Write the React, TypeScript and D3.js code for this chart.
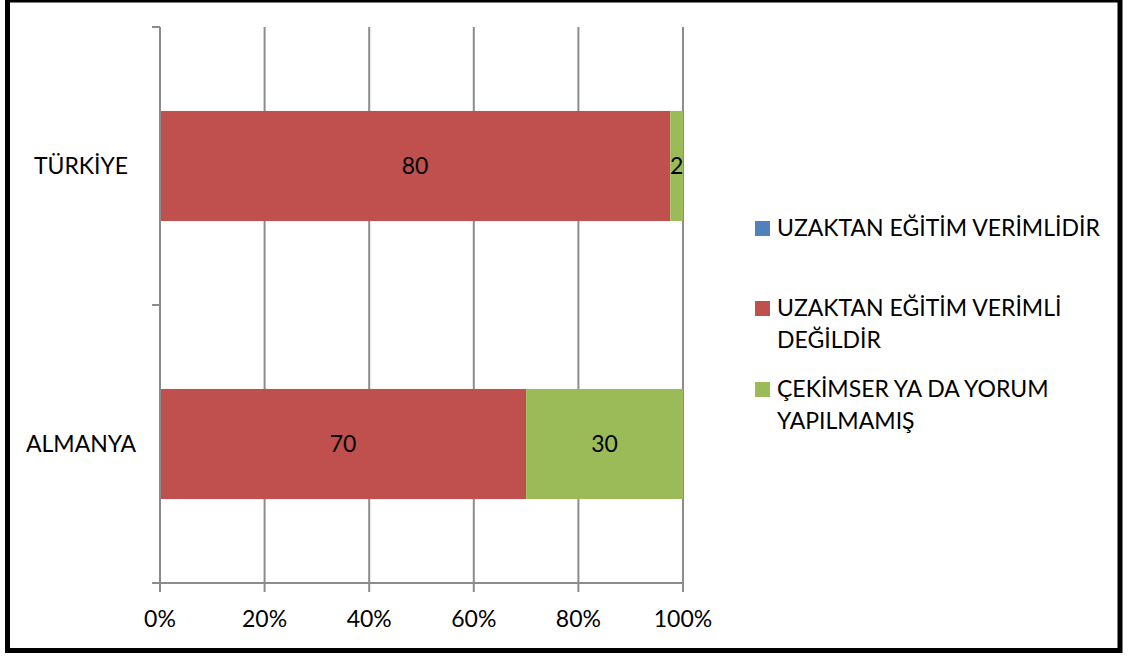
import React from "react";
import * as d3 from "d3";

const categories = ["TÜRKİYE", "ALMANYA"];
const seriesNames = ["UZAKTAN EĞİTİM VERİMLİDİR", "UZAKTAN EĞİTİM VERİMLİ DEĞİLDİR", "ÇEKİMSER YA DA YORUM YAPILMAMIŞ"];
const legendLines = [["UZAKTAN EĞİTİM VERİMLİDİR"], ["UZAKTAN EĞİTİM VERİMLİ", "DEĞİLDİR"], ["ÇEKİMSER YA DA YORUM", "YAPILMAMIŞ"]];
const verimli = [0, 0];
const verimliDegil = [80, 70];
const cekimser = [2, 30];
const tickValues = [0, 0.2, 0.4, 0.6, 0.8, 1];
const colors = ["#4F81BD", "#C0504D", "#9BBB59"];

const W = 1129, H = 657;
const FONT = "Lato, 'Liberation Sans', sans-serif";
const FS = 23;

export default function App() {
  const x = d3.scaleLinear().domain([0, 1]).range([160, 683]);
  const y = d3.scaleBand<string>().domain(categories).range([27, 583]).paddingInner(0.604).paddingOuter(0.302);
  const rows = categories.map((c, i) => ({ cat: c, v: [verimli[i], verimliDegil[i], cekimser[i]] }));
  const stack = d3.stack<any>().keys(["0", "1", "2"]).value((d, k) => d.v[+k]).offset(d3.stackOffsetExpand);
  const layers = stack(rows as any);
  const rawLayers = d3.stack<any>().keys(["0", "1", "2"]).value((d, k) => d.v[+k])(rows as any);
  const grid = "#8C8C8C";
  const step = y.step();
  const yTicks = [27, 27 + step, 583];
  return (
    <svg width={W} height={H} style={{ position: "absolute", left: 0, top: 0, background: "#fff" }} fontFamily={FONT}>
      <rect x={0} y={0} width={W} height={H} fill="#fff" />
      <rect x={7.5} y={0} width={1112.5} height={650.5} fill="none" stroke="#000" strokeWidth={5} />
      {tickValues.slice(1).map((t) => (
        <line key={t} x1={x(t)} x2={x(t)} y1={27} y2={592} stroke={grid} strokeWidth={2} />
      ))}
      {layers.map((layer, li) =>
        layer.map((d, i) => {
          const w = x(d[1]) - x(d[0]);
          if (w <= 0) return null;
          return (
            <rect key={li + "-" + i} x={x(d[0])} y={y(rows[i].cat)} width={w} height={y.bandwidth()} fill={colors[li]} />
          );
        })
      )}
      {layers.map((layer, li) =>
        layer.map((d, i) => {
          const val = rows[i].v[li];
          if (!val) return null;
          return (
            <text key={"l" + li + "-" + i} x={(x(d[0]) + x(d[1])) / 2} y={(y(rows[i].cat) as number) + y.bandwidth() / 2} dy="0.35em" textAnchor="middle" fontSize={FS} fill="#000">
              {val}
            </text>
          );
        })
      )}
      <line x1={160} x2={160} y1={27} y2={583} stroke={grid} strokeWidth={2} />
      <line x1={152} x2={683} y1={583} y2={583} stroke={grid} strokeWidth={2} />
      {yTicks.map((t) => (
        <line key={t} x1={152} x2={160} y1={t} y2={t} stroke={grid} strokeWidth={2} />
      ))}
      <line x1={160} x2={160} y1={583} y2={592} stroke={grid} strokeWidth={2} />
      {tickValues.map((t) => (
        <text key={"t" + t} x={x(t)} y={619} dy="0.35em" textAnchor="middle" fontSize={FS} fill="#000">
          {d3.format(".0%")(t)}
        </text>
      ))}
      {categories.map((c) => (
        <text key={c} x={81} y={(y(c) as number) + y.bandwidth() / 2} dy="0.35em" textAnchor="middle" fontSize={FS} fill="#000">
          {c}
        </text>
      ))}
      {seriesNames.map((s, i) => {
        const tops = [228, 308, 389];
        return (
          <g key={s}>
            <rect x={755} y={tops[i] - 7} width={15} height={15} fill={colors[i]} />
            {legendLines[i].map((ln, j) => (
              <text key={j} x={777} y={tops[i] + j * 32} dy="0.35em" fontSize={FS} fill="#000">
                {ln}
              </text>
            ))}
          </g>
        );
      })}
    </svg>
  );
}
